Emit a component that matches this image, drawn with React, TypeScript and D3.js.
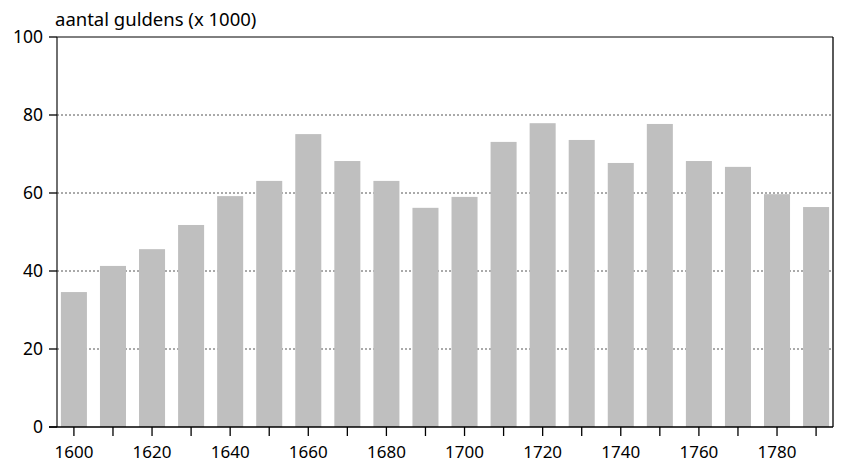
import React from "react";
import * as d3 from "d3";

const years = [1600,1610,1620,1630,1640,1650,1660,1670,1680,1690,1700,1710,1720,1730,1740,1750,1760,1770,1780,1790];
const values = [34.6,41.3,45.6,51.8,59.2,63.1,75.1,68.2,63.1,56.2,59.0,73.1,77.9,73.6,67.7,77.7,68.2,66.7,59.7,56.4];
const yTicks = [0,20,40,60,80,100];
const gridTicks = [20,40,60,80];
const xLabelYears = [1600,1620,1640,1660,1680,1700,1720,1740,1760,1780];
const yTitle = "aantal guldens (x 1000)";

const W = 842, H = 464;
const L = 57, R = 833, T = 37, B = 427;
const font = "'Noto Sans', sans-serif";

export default function App() {
  const x = d3.scaleBand<number>().domain(years).range([L, R]).paddingInner(0.334).paddingOuter(0.1);
  const y = d3.scaleLinear().domain([0, 100]).range([B, T]);
  return (
    <svg width={W} height={H} style={{ position: "absolute", left: 0, top: 0 }}>
      <rect x={0} y={0} width={W} height={H} fill="#fff" />
      {gridTicks.map(t => (
        <line key={"g"+t} x1={L} x2={R} y1={y(t)} y2={y(t)} stroke="#555" strokeWidth={1} strokeDasharray="2,2" />
      ))}
      {years.map((yr, i) => (
        <rect key={yr} x={x(yr)} y={y(values[i])} width={x.bandwidth()} height={B - y(values[i])} fill="#bfbfbf" />
      ))}
      <line x1={L} x2={R} y1={T} y2={T} stroke="#000" strokeWidth={1} />
      <line x1={R} x2={R} y1={T} y2={B} stroke="#000" strokeWidth={1.3} />
      <line x1={L} x2={L} y1={T} y2={B} stroke="#222" strokeWidth={1.3} />
      <line x1={49} x2={R} y1={B} y2={B} stroke="#000" strokeWidth={1.3} />
      {yTicks.map(t => (
        <g key={"y"+t}>
          <line x1={49} x2={L} y1={y(t)} y2={y(t)} stroke="#000" strokeWidth={1.3} />
          <text x={43} y={y(t)} dy="0.36em" textAnchor="end" fontFamily={font} fontSize={17.5} fill="#000">{t}</text>
        </g>
      ))}
      {years.map(yr => (
        <line key={"xt"+yr} x1={x(yr)! + x.bandwidth()/2} x2={x(yr)! + x.bandwidth()/2} y1={B} y2={B+9} stroke="#000" strokeWidth={1.3} />
      ))}
      {xLabelYears.map(yr => (
        <text key={"xl"+yr} x={x(yr)! + x.bandwidth()/2} y={458} textAnchor="middle" fontFamily={font} fontSize={17} fill="#000">{yr}</text>
      ))}
      <text x={55} y={26} fontFamily={font} fontSize={18.5} fill="#000">{yTitle}</text>
    </svg>
  );
}
